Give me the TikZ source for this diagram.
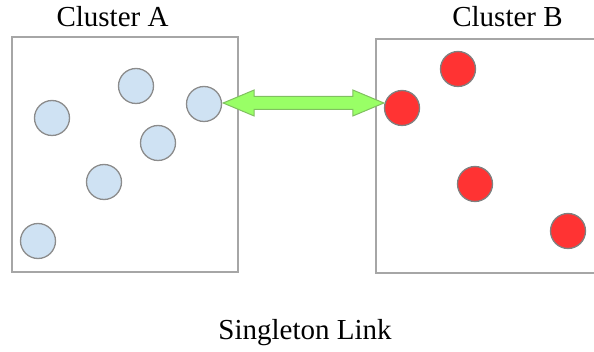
\documentclass[tikz,border=0pt]{standalone}
\usepackage{fontspec}
\setmainfont{Liberation Serif}
\usepackage{tikz}
\usetikzlibrary{calc}
\definecolor{boxgray}{HTML}{A6A6A6}
\definecolor{pointblue}{HTML}{CFE2F3}
\definecolor{pointred}{HTML}{FF3333}
\definecolor{linkgreen}{HTML}{99FF66}
\definecolor{linkedge}{HTML}{80C060}
\tikzstyle{ClusterBox}=[draw=boxgray, line width=1.5pt, fill=none, shape=rectangle, inner sep=0pt]
\tikzstyle{PointA}=[minimum size=35pt, inner sep=0pt, fill=pointblue, line width=1.3pt, draw=gray!90, shape=circle]
\tikzstyle{PointB}=[minimum size=35pt, inner sep=0pt, fill=pointred, line width=1.3pt, draw=gray, shape=circle]
\tikzstyle{Caption}=[font=\fontsize{29}{34}\selectfont, anchor=base, inner sep=0pt]
\tikzstyle{Link}=[fill=linkgreen, draw=linkedge, line width=1pt, line join=miter]
\pgfdeclarelayer{nodelayer}
\pgfdeclarelayer{edgelayer}
\pgfsetlayers{nodelayer, edgelayer}
\begin{document}
\begin{tikzpicture}[x=1pt, y=-1pt]
	\useasboundingbox (0,0) rectangle (594,352);
	\begin{pgfonlayer}{nodelayer}
		\node [style=ClusterBox, minimum width=226, minimum height=235] (boxA) at (125, 154.5) {};
		\node [style=ClusterBox, minimum width=240, minimum height=234] (boxB) at (496, 156) {};
		\node [style=Caption] (labelA) at (112.5, 27) {Cluster A};
		\node [style=Caption] (labelB) at (507.5, 27) {Cluster B};
		\node [style=Caption] (link) at (305, 340) {Singleton Link};
		% cluster A
		\node [style=PointA] (a1) at (52, 118) {};
		\node [style=PointA] (a2) at (136, 86) {};
		\node [style=PointA] (a3) at (204, 104) {};
		\node [style=PointA] (a4) at (158, 143) {};
		\node [style=PointA] (a5) at (104, 182) {};
		\node [style=PointA] (a6) at (38, 241) {};
		% cluster B
		\node [style=PointB] (b1) at (402, 108) {};
		\node [style=PointB] (b2) at (458, 69) {};
		\node [style=PointB] (b3) at (475, 184) {};
		\node [style=PointB] (b4) at (568, 231) {};
	\end{pgfonlayer}
	\begin{pgfonlayer}{edgelayer}
		\coordinate (lt) at ($(a3.east)+(1,-1)$);
		\coordinate (rt) at (b1.west |- lt);
		\draw [style=Link] (lt) -- ++(31,-13) -- ++(0,6.5) -- ($(rt)+(-31,-6.5)$) -- ++(0,-6.5)
			-- (rt) -- ++(-31,13) -- ++(0,-6.5) -- ($(lt)+(31,6.5)$) -- ++(0,6.5) -- cycle;
	\end{pgfonlayer}
\end{tikzpicture}
\end{document}
